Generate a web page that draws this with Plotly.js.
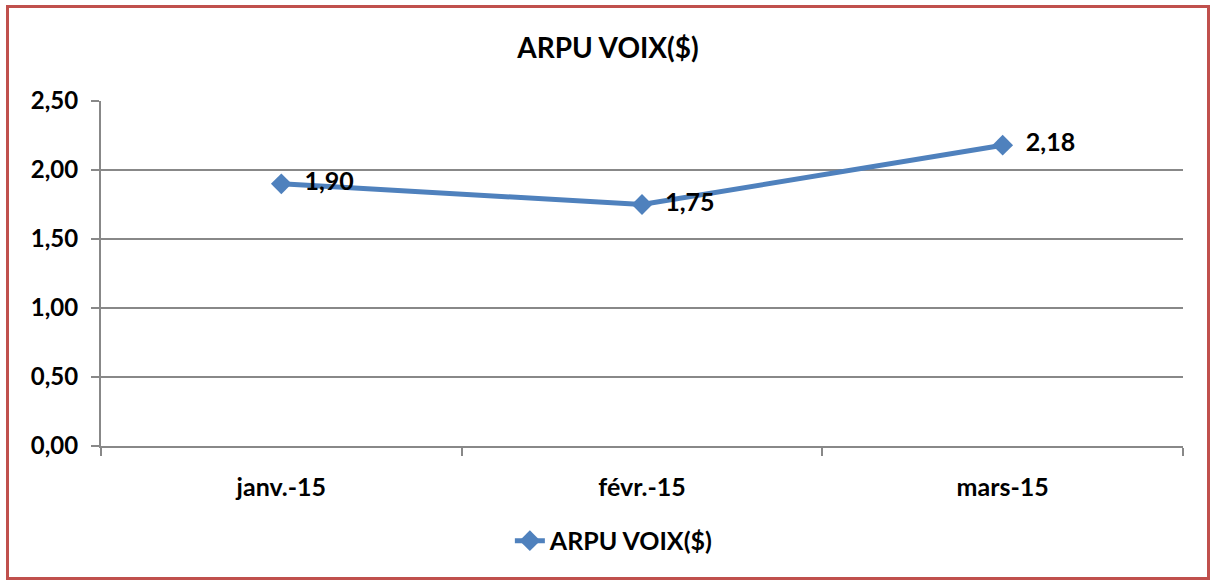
<!DOCTYPE html>
<html>
<head>
<meta charset="utf-8">
<script src="https://cdn.plot.ly/plotly-3.0.1.min.js"></script>
<style>
  html, body { margin: 0; padding: 0; background: #fff; }
  #frame {
    position: absolute; left: 6px; top: 5px;
    width: 1198px; height: 569px;
    border: 3px solid #C0504D;
  }
  #chart { width: 1198px; height: 569px; }
</style>
</head>
<body>
<div id="frame"><div id="chart"></div></div>
<script>
const months = ["janv.-15", "févr.-15", "mars-15"];
const arpuVoix = [1.90, 1.75, 2.18];
const seriesName = "ARPU VOIX($)";

const font = { family: "Lato, 'Liberation Sans', sans-serif", size: 24, color: "#000", weight: "bold" };
const gridGray = "#888888";

const trace = {
  x: months,
  y: arpuVoix,
  type: "scatter",
  mode: "lines+markers+text",
  name: seriesName,
  line: { color: "#4F81BD", width: 5 },
  marker: { symbol: "diamond", size: 16, color: "#4F81BD" },
  texttemplate: "  %{y:.2f}",
  textposition: "middle right",
  textfont: { ...font, size: 25 },
  cliponaxis: false,
  hoverinfo: "skip",
};

const layout = {
  width: 1198,
  height: 569,
  margin: { l: 92, r: 24, t: 93, b: 131 },
  separators: ", ",
  paper_bgcolor: "#fff",
  plot_bgcolor: "#fff",
  font: font,
  title: {
    text: "ARPU VOIX($)",
    font: { ...font, size: 28 },
    x: 0.5, xanchor: "center",
    y: 1 - 40 / 569, yanchor: "middle",
  },
  xaxis: {
    type: "category",
    range: [-0.5, 2.5],
    showgrid: false,
    showline: true,
    linecolor: gridGray,
    linewidth: 2,
    ticks: "outside",
    tickson: "boundaries",
    ticklen: 8,
    tickcolor: gridGray,
    tickwidth: 2,
    ticklabelstandoff: 18,
    tickfont: { ...font, size: 25 },
    fixedrange: true,
  },
  yaxis: {
    range: [0, 2.5],
    dtick: 0.5,
    tickformat: ".2f",
    showgrid: true,
    gridcolor: gridGray,
    gridwidth: 2,
    zeroline: false,
    showline: true,
    linecolor: gridGray,
    linewidth: 2,
    ticks: "outside",
    ticklen: 8,
    tickcolor: gridGray,
    tickwidth: 2,
    ticklabelstandoff: 8,
    tickfont: font,
    fixedrange: true,
  },
  showlegend: true,
  legend: {
    orientation: "h",
    x: 0.474, xanchor: "center",
    y: -0.275, yanchor: "middle",
    font: { ...font, size: 25 },
  },
};

Plotly.newPlot("chart", [trace], layout, { displayModeBar: false, staticPlot: true });
</script>
</body>
</html>
